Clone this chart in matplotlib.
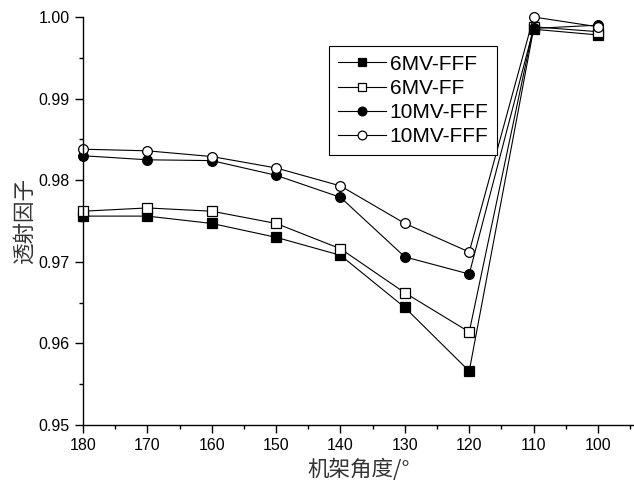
import matplotlib
matplotlib.use("Agg")
import matplotlib.pyplot as plt
from matplotlib.ticker import MultipleLocator

plt.rcParams['font.family'] = ['Liberation Sans', 'Noto Sans CJK SC', 'DejaVu Sans']

angles = [180, 170, 160, 150, 140, 130, 120, 110, 100]
mv6_fff = [0.9756, 0.9756, 0.9747, 0.9730, 0.9708, 0.9644, 0.9566, 0.9985, 0.9978]
mv6_ff = [0.9762, 0.9766, 0.9762, 0.9747, 0.9716, 0.9662, 0.9614, 0.9988, 0.9982]
mv10_fff = [0.9830, 0.9825, 0.9824, 0.9806, 0.9779, 0.9706, 0.9685, 0.9986, 0.9990]
mv10_ff = [0.9838, 0.9836, 0.9829, 0.9815, 0.9793, 0.9747, 0.9712, 1.0000, 0.9988]
labels = ["6MV-FFF", "6MV-FF", "10MV-FFF", "10MV-FFF"]

fig = plt.figure(figsize=(6.34, 4.87), dpi=100)
ax = fig.add_axes([83 / 634, 62 / 487, 551 / 634, 408 / 487])

style = dict(color="black", lw=0.8, ms=7, mec="black", mew=0.9, clip_on=False)
ax.plot(angles, mv6_fff, marker="s", mfc="black", label=labels[0], **style)
ax.plot(angles, mv6_ff, marker="s", mfc="white", label=labels[1], **style)
ax.plot(angles, mv10_fff, marker="o", mfc="black", label=labels[2], **style)
ax.plot(angles, mv10_ff, marker="o", mfc="white", label=labels[3], **style)

ax.set_xlim(180, 94.4)
ax.set_ylim(0.95, 1.00)
ax.xaxis.set_major_locator(MultipleLocator(10))
ax.xaxis.set_minor_locator(MultipleLocator(5))
ax.yaxis.set_major_locator(MultipleLocator(0.01))
ax.yaxis.set_minor_locator(MultipleLocator(0.005))
ax.yaxis.set_major_formatter(plt.FormatStrFormatter("%.2f"))

for s in ["top", "right"]:
    ax.spines[s].set_visible(False)
for s in ["left", "bottom"]:
    ax.spines[s].set_linewidth(1.0)
ax.tick_params(which="major", direction="out", length=6, width=1, labelsize=11.5)
ax.tick_params(which="minor", direction="out", length=3, width=1)

cjk = ["Noto Sans CJK SC", "DejaVu Sans"]
ax.set_xlabel("机架角度/°", fontsize=15.5, color="#333333", family=cjk, labelpad=4)
ax.set_ylabel("透射因子", fontsize=15.5, color="#333333", family=cjk, labelpad=2)

leg = ax.legend(loc="upper left", bbox_to_anchor=(0.447, 0.928), fontsize=15,
                frameon=True, fancybox=False, edgecolor="black", framealpha=1,
                handlelength=2.3, handletextpad=0.2, borderpad=0.4, labelspacing=0.25,
                borderaxespad=0, markerscale=0.9)
leg.get_frame().set_linewidth(0.8)

fig.savefig("out.png", dpi=100)
